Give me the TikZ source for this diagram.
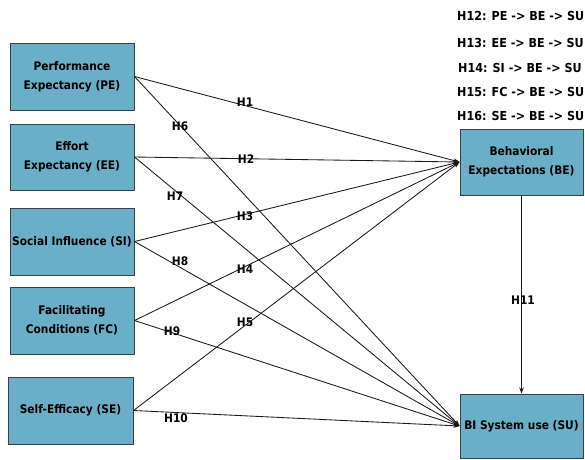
\documentclass[tikz,border=0pt]{standalone}
\usepackage{fontspec}
\setmainfont{DejaVu Sans Condensed}
\usetikzlibrary{arrows.meta}
\definecolor{boxblue}{RGB}{106,174,199}
\definecolor{boxline}{RGB}{55,65,70}
\tikzset{
  cbox/.style={draw=boxline, line width=1pt, fill=boxblue, align=center, inner sep=1pt,
    font=\bfseries\fontsize{11.8}{19}\selectfont},
  hlab/.style={font=\bfseries\fontsize{11.8}{14}\selectfont, inner sep=0pt},
  toplab/.style={font=\bfseries\fontsize{12.4}{14}\selectfont, inner sep=0pt, anchor=west},
  link/.style={draw=black!90, line width=0.85pt, -{Stealth[length=6pt,width=4.5pt]}},
}
\begin{document}
\begin{tikzpicture}[x=1pt,y=-1pt]
\useasboundingbox (0,0) rectangle (585,459);
\node[cbox, minimum width=124pt, minimum height=67pt] (PE) at (72,76.5) {Performance\\Expectancy (PE)};
\node[cbox, minimum width=124pt, minimum height=66pt] (EE) at (72,157) {Effort\\Expectancy (EE)};
\node[cbox, minimum width=124pt, minimum height=67pt] (SI) at (72,241.5) {Social Influence (SI)};
\node[cbox, minimum width=124pt, minimum height=67pt] (FC) at (72,320.5) {Facilitating\\Conditions (FC)};
\node[cbox, minimum width=125pt, minimum height=67pt] (SE) at (70.5,410.5) {Self-Efficacy (SE)};
\node[cbox, minimum width=123pt, minimum height=66pt] (BE) at (521.5,162) {Behavioral\\Expectations (BE)};
\node[cbox, minimum width=123pt, minimum height=64pt] (SU) at (521.5,426) {BI System use (SU)};

\foreach \s in {PE,EE,SI,FC,SE}{
  \draw[link] (\s.east) -- (BE.west);
  \draw[link] (\s.east) -- (SU.west);
}
\draw[link] (BE.south) -- (SU.north);

\node[hlab] (h1) at (245,102) {H1};
\node[hlab] (h6) at (180,126) {H6};
\node[hlab] (h2) at (246,159) {H2};
\node[hlab] (h7) at (175,196) {H7};
\node[hlab] (h3) at (245,216) {H3};
\node[hlab] (h8) at (180,261) {H8};
\node[hlab] (h4) at (245,269) {H4};
\node[hlab] (h5) at (245,322) {H5};
\node[hlab] (h9) at (172,331) {H9};
\node[hlab] (h10) at (176,418) {H10};
\node[hlab] (h11) at (523,300) {H11};

\node[toplab] (h12) at (457,16) {H12: PE -> BE -> SU};
\node[toplab] (h13) at (457,43) {H13: EE -> BE -> SU};
\node[toplab] (h14) at (458,68) {H14: SI -> BE -> SU};
\node[toplab] (h15) at (457,92) {H15: FC -> BE -> SU};
\node[toplab] (h16) at (457,116) {H16: SE -> BE -> SU};
\end{tikzpicture}
\end{document}
